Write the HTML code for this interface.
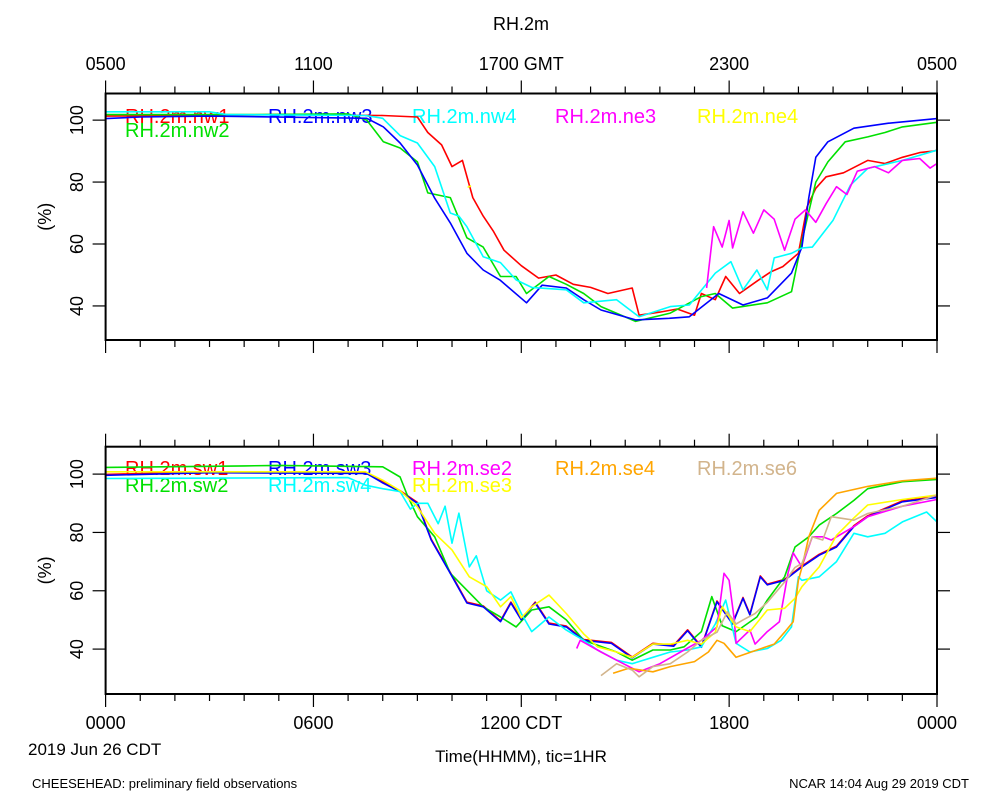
<!DOCTYPE html>
<html><head><meta charset="utf-8"><style>
body{margin:0;background:#fff}
svg{display:block;font-family:"Liberation Sans",sans-serif}
</style></head><body>
<svg id="chart" width="1000" height="800" viewBox="0 0 1000 800" xmlns="http://www.w3.org/2000/svg">
<text x="521" y="30" font-size="18" text-anchor="middle">RH.2m</text>
<g id="top-axis-labels"></g>
<g id="panel-top"></g>
<g id="panel-bot"></g>
<g id="bottom-axis-labels"></g>
<text x="28" y="755" font-size="17">2019 Jun 26 CDT</text>
<text x="521" y="762" font-size="17" text-anchor="middle">Time(HHMM), tic=1HR</text>
<text x="32" y="788" font-size="13">CHEESEHEAD: preliminary field observations</text>
<text x="969" y="788" font-size="13" text-anchor="end">NCAR 14:04 Aug 29 2019 CDT</text>
</svg>
<script>
const gmtTickLabels=["0500","1100","1700 GMT","2300","0500"];
const cdtTickLabels=["0000","0600","1200 CDT","1800","0000"];
const yTickValues=[40,60,80,100];
const topNames=["RH.2m.nw1","RH.2m.nw2","RH.2m.nw3","RH.2m.nw4","RH.2m.ne3","RH.2m.ne4"];
const botNames=["RH.2m.sw1","RH.2m.sw2","RH.2m.sw3","RH.2m.sw4","RH.2m.se2","RH.2m.se3","RH.2m.se4","RH.2m.se6"];
const nw1=[[0,101.3],[3,101.5],[5,101.8],[8,101.5],[9,101],[9.3,96],[9.7,92],[10,85],[10.3,87],[10.6,75],[10.9,69],[11.2,64],[11.5,58],[12,53],[12.5,49],[13,50],[13.5,47],[14,46],[14.5,44],[15.2,45.8],[15.4,37],[16,38],[16.5,39],[17,37],[17.2,44],[17.6,42],[17.9,49.5],[18.3,44],[18.8,48],[19.2,51],[19.55,52.7],[20,57],[20.25,72],[20.5,78],[20.8,81.7],[21.3,83],[22,87],[22.5,86],[23,88],[23.5,89.5],[23.9,90],[24,90.3]];
const nw2=[[0,101.8],[4,101.8],[7,102],[7.54,100],[8.02,93],[8.5,91],[9,86.5],[9.3,76.5],[9.95,75],[10.43,62],[10.9,59],[11.4,49.5],[11.85,49.5],[12.15,44],[12.8,49.5],[13.3,47],[13.8,44],[14.3,39.8],[15.3,35],[16.3,37.7],[17.2,43],[17.6,44],[18.1,39.3],[19.1,41],[19.8,44.6],[20.1,61],[20.5,80],[20.85,86.5],[21.35,93],[22,94.6],[22.5,96],[23,97.8],[24,99.3]];
const nw3=[[0,100.5],[1,101],[3,101.3],[7.54,100.6],[8.02,97.8],[8.5,92.6],[9,85.5],[9.5,74.8],[9.95,66.8],[10.43,57],[10.9,51.6],[11.38,48.4],[12.15,41],[12.6,46.7],[13.3,45.8],[13.8,42],[14.3,38.7],[15.3,35.5],[16.27,36],[16.85,36.5],[17.7,44],[18.4,40.3],[19.1,42.6],[19.8,50.6],[20.1,59],[20.3,75],[20.5,88],[20.85,93],[21.6,97.4],[22.6,99],[24,100.5]];
const nw4=[[0,102.7],[3,102.7],[3.5,101.8],[7.5,101.5],[8,100.6],[8.5,95],[9,92.6],[9.5,85],[9.95,70],[10.2,69],[10.43,65.6],[10.9,55.9],[11.4,54],[11.85,48.4],[12.3,46],[13.3,45.2],[13.8,41],[14.75,42],[15.4,36.5],[16.3,39.8],[16.85,40.3],[17.6,50.6],[18.05,54.3],[18.4,45.2],[18.8,51.6],[19.1,45.2],[19.3,55.5],[19.8,57],[20.1,58.7],[20.4,59],[21,67.7],[21.5,79],[22,84.4],[23,87],[24,90.3]];
const ne3=[[17.35,45.8],[17.55,65.6],[17.8,59],[18,67.6],[18.1,58.7],[18.4,70.4],[18.7,63.5],[19,71],[19.3,68],[19.6,58],[19.9,68],[20.2,71],[20.5,67],[20.8,73],[21.1,78.5],[21.4,76],[21.7,83.5],[22.2,85],[22.6,83],[23,87],[23.5,87.6],[23.8,84.5],[24,86]];
const ne4=[[10.45,78.3],[10.55,78.8]];
const sw3=[[0,99.6],[3,100.5],[7.54,100.2],[8,97],[8.5,94],[9,90],[9.4,77.4],[9.95,66],[10.43,55.8],[10.9,54.5],[11.4,49.4],[11.7,55.8],[12,50],[12.4,55.8],[12.8,48.6],[13.3,47.6],[13.8,43],[14.6,42],[15.2,37],[15.8,41.7],[16.4,41],[16.8,46.3],[17.2,40.6],[17.65,56.2],[18.1,48.6],[18.4,57.4],[18.6,51.7],[18.9,64.8],[19.1,62],[19.6,63.6],[20.1,68.2],[20.6,72.2],[21.1,75],[21.6,82],[22,85.4],[23,90.5],[24,92]];
const sw1=sw3.map(p=>[p[0],p[1]+0.3]);
const sw2=[[0,102.3],[4,102.8],[5,103],[8,102.5],[8.5,99],[8.7,93],[9,85.4],[9.5,78.5],[9.95,66],[10.43,60.2],[10.9,54.5],[11.4,51],[11.85,47.6],[12.3,53.4],[12.8,54.5],[13.3,50],[13.8,43],[14.75,39],[15.2,36.2],[15.8,39.7],[16.3,39.7],[16.7,40.8],[17.2,46],[17.5,58],[17.8,48],[18.2,46],[18.8,51],[19.1,56.8],[19.6,64.8],[19.9,75],[20.3,78.5],[20.6,82.5],[21.1,86.5],[21.6,91],[22,95],[23,97.4],[24,98.2]];
const sw4=[[0,98.5],[7,98.8],[7.5,96.2],[8,95],[8.5,94],[8.8,88],[9,90],[9.3,90],[9.6,83],[9.8,89],[10,76.3],[10.2,86.6],[10.5,68.2],[10.7,72],[11,60],[11.4,56.8],[11.7,59.6],[12,52.2],[12.3,46],[12.8,51],[13.3,46.5],[13.8,43],[14.2,39.7],[14.75,36.2],[15.2,35],[15.8,37.2],[16.3,39],[16.8,39.7],[17.2,40.8],[17.6,48.6],[17.9,56.8],[18.2,42],[18.6,39],[19.1,40.2],[19.5,43],[19.8,47.6],[20,64.8],[20.1,63.6],[20.6,64.8],[21.1,70],[21.6,79.7],[22,78.5],[22.5,79.7],[23,83.6],[23.7,87],[24,83.6]];
const se2=[[13.6,40.2],[13.7,43],[14.3,39],[14.75,36.2],[15.4,32.2],[16,35],[16.7,39.7],[17.2,43],[17.65,47.6],[17.85,66],[18,63.6],[18.15,50],[18.2,42],[18.6,46.5],[18.75,41.7],[19.1,46],[19.45,49.4],[19.7,66],[19.85,73],[20.1,68.2],[20.4,78.5],[20.7,78.5],[20.95,77.4],[21.6,82],[22,85.4],[23,89],[24,91.3]];
const se3=[[0,100.8],[7.5,100.8],[8,97.9],[8.5,94.3],[9,88.8],[9.5,79.7],[10,74],[10.5,64.8],[11,61.4],[11.4,54.5],[11.7,58],[12,50.7],[12.3,54.5],[12.8,58.5],[13.3,52.2],[13.8,45.2],[14.2,40.8],[14.75,39],[15.2,37.2],[15.8,41.7],[16.3,41.7],[16.8,43],[17.2,41.7],[17.6,45.8],[17.8,54.5],[18.2,47.6],[18.6,46],[19.1,53.4],[19.6,54],[19.9,57.4],[20.1,61.4],[20.6,68.2],[21.1,79],[21.6,85],[22,89.4],[23,91.3],[24,92.8]];
const se4=[[14.65,31.7],[15.1,33.4],[15.8,32.2],[16.3,34],[17,35.7],[17.4,39],[17.65,43],[17.85,42],[18.2,37.2],[18.8,39.7],[19.3,41.7],[19.6,45.8],[19.85,49.4],[20,63.6],[20.1,68],[20.3,78.5],[20.6,87.6],[21.1,93.4],[22,95.8],[23,97.7],[24,98.6]];
const se6=[[14.3,30.9],[14.75,35],[15.2,32.8],[15.4,30.5],[15.8,34],[16.3,35],[16.8,39],[17.2,43],[17.65,45.8],[17.95,52.8],[18.2,48.6],[18.4,50],[18.75,52.2],[19.1,56],[19.6,63],[19.9,68],[20.1,69.4],[20.4,78.5],[20.7,77.4],[20.95,85.4],[21.6,84.2],[22,86.5],[23,89],[24,92.8]];

const NS="http://www.w3.org/2000/svg";
const X0=105.6,X1=937;
function xScale(h){return X0+(X1-X0)*h/24;}
function mk(tag,attrs,parent){const e=document.createElementNS(NS,tag);for(const k in attrs)e.setAttribute(k,attrs[k]);parent.appendChild(e);return e;}
function panel(g,top,bot,vTop,vBot,names,series,colors,legendPos){
  const ys=v=>top+(vTop-v)*(bot-top)/(vTop-vBot);
  names.forEach((n,i)=>{
    const t=mk('text',{x:legendPos[i][0],y:legendPos[i][1],'font-size':20,fill:colors[i]},g);
    t.textContent=n;
    
    
  });
  series.forEach((s,i)=>{
    const d=s.map((p,j)=>(j?'L':'M')+xScale(p[0]).toFixed(1)+','+ys(p[1]).toFixed(1)).join(' ');
    const p=mk('path',{d:d,fill:'none',stroke:colors[i],'stroke-width':1.6,'stroke-linejoin':'round'},g);
    
    
  });
  const frame=mk('rect',{x:X0,y:top,width:X1-X0,height:bot-top,fill:'none',stroke:'#000','stroke-width':2},g);
  
  
  for(let h=0;h<=24;h++){
    const x=xScale(h),L=(h%6===0)?13:7;
    const t1=mk('line',{x1:x,x2:x,y1:top,y2:top-L,stroke:'#000','stroke-width':1.2},g);
    
    
    const t2=mk('line',{x1:x,x2:x,y1:bot,y2:bot+L,stroke:'#000','stroke-width':1.2},g);
    
    
  }
  yTickValues.forEach(v=>{
    const y=ys(v);
    const a=mk('line',{x1:X0-13,x2:X0,y1:y,y2:y,stroke:'#000','stroke-width':1.2},g);
    
    
    const b=mk('line',{x1:X1,x2:X1+13,y1:y,y2:y,stroke:'#000','stroke-width':1.2},g);
    
    
    const t=mk('text',{x:0,y:0,'font-size':18,'text-anchor':'middle',transform:`translate(83,${y}) rotate(-90)`},g);
    t.textContent=v;
    
    
  });
  const yl=mk('text',{x:0,y:0,'font-size':18,'text-anchor':'middle',transform:`translate(51,${(top+bot)/2}) rotate(-90)`},g);
  yl.textContent='(%)';
  
  
}
panel(document.getElementById('panel-top'),93.5,340,108.6,29,topNames,[nw1,nw2,nw3,nw4,ne3,ne4],
  ['#ff0000','#00e000','#0000ff','#00ffff','#ff00ff','#ffff00'],
  [[125,123],[125,137],[268,123],[412,123],[555,123],[697,123]]);
panel(document.getElementById('panel-bot'),446.7,694,109.4,24.6,botNames,[sw1,sw2,sw3,sw4,se2,se3,se4,se6],
  ['#ff0000','#00e000','#0000ff','#00ffff','#ff00ff','#ffff00','#ffa500','#d2b48c'],
  [[125,475],[125,492],[268,475],[268,492],[412,475],[412,492],[555,475],[697,475]]);
const tg=document.getElementById('top-axis-labels'),bg=document.getElementById('bottom-axis-labels');
gmtTickLabels.forEach((l,i)=>{const t=mk('text',{x:xScale(i*6),y:70,'font-size':18,'text-anchor':'middle'},tg);t.textContent=l;

});
cdtTickLabels.forEach((l,i)=>{const t=mk('text',{x:xScale(i*6),y:729,'font-size':18,'text-anchor':'middle'},bg);t.textContent=l;

});
</script>
</body></html>
